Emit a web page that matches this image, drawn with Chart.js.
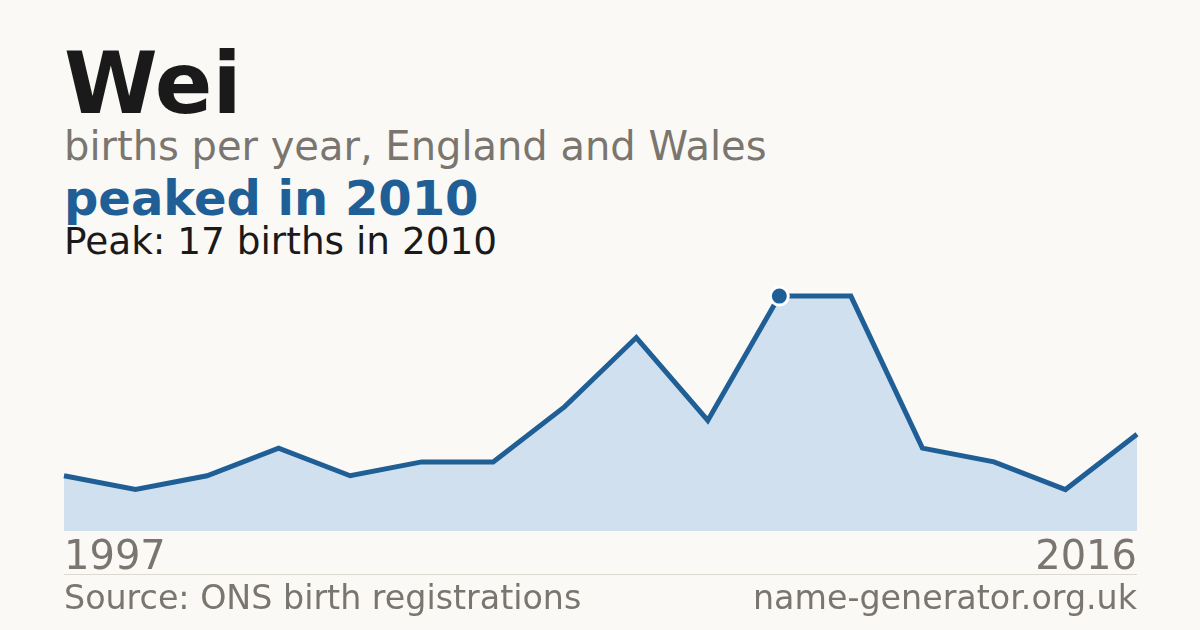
<!DOCTYPE html>
<html><head><meta charset="utf-8">
<script src="https://cdn.jsdelivr.net/npm/chart.js@4.4.1/dist/chart.umd.min.js"></script>
<style>
html,body{margin:0;padding:0;background:#faf9f5;}
body{width:1200px;height:630px;position:relative;overflow:hidden;font-family:"DejaVu Sans",sans-serif;}
.t{position:absolute;left:64px;white-space:nowrap;line-height:1;margin:0;}
#title{top:41px;font-size:85px;font-weight:bold;color:#1a1a1a;}
#sub{top:126px;font-size:40px;color:#7a766f;}
#peaked{top:174px;font-size:48px;font-weight:bold;color:#1f5f96;}
#peak{top:223px;font-size:37.4px;color:#1a1a1a;}
#rule{position:absolute;left:64px;width:1073px;top:574px;height:1px;background:#ddd9d1;}
#src{top:581px;font-size:33.3px;color:#7a766f;}
#site{top:581px;left:auto;right:63px;font-size:33.3px;color:#7a766f;}
#wrap{position:absolute;left:60px;top:270px;width:1081px;height:317px;}
</style></head>
<body>
<div class="t" id="title">Wei</div>
<div class="t" id="sub">births per year, England and Wales</div>
<div class="t" id="peaked">peaked in 2010</div>
<div class="t" id="peak">Peak: 17 births in 2010</div>
<div id="wrap"><canvas id="c" width="1081" height="317"></canvas></div>
<div id="rule"></div>
<div class="t" id="src">Source: ONS birth registrations</div>
<div class="t" id="site">name-generator.org.uk</div>
<script>
const years = [1997, 1998, 1999, 2001, 2002, 2003, 2004, 2006, 2007, 2008, 2010, 2011, 2012, 2013, 2014, 2016];
const births = [4, 3, 4, 6, 4, 5, 5, 9, 14, 8, 17, 17, 6, 5, 3, 7];
const peakYear = 2010;

const peakIdx = years.indexOf(peakYear);
const peakVal = births[peakIdx];
const lineColor = '#1f5f96';

new Chart(document.getElementById('c'), {
  type: 'line',
  data: {
    labels: years.map(String),
    datasets: [{
      data: births,
      borderColor: lineColor,
      borderWidth: 5,
      backgroundColor: '#d0e0ef',
      fill: 'origin',
      tension: 0,
      pointRadius: births.map((v, i) => i === peakIdx ? 9 : 0),
      pointBackgroundColor: lineColor,
      pointBorderColor: '#ffffff',
      pointBorderWidth: 3,
      clip: false
    }]
  },
  options: {
    responsive: false,
    animation: false,
    devicePixelRatio: 1,
    layout: { padding: 0, autoPadding: false },
    plugins: { legend: { display: false }, tooltip: { enabled: false } },
    scales: {
      x: {
        offset: false,
        border: { display: false },
        grid: { display: false, drawTicks: false },
        ticks: {
          autoSkip: false,
          maxRotation: 0,
          align: 'inner',
          padding: 4,
          color: '#7a766f',
          font: { family: 'DejaVu Sans', size: 40 },
          callback: (v, i, arr) => (i === 0 || i === arr.length - 1) ? years[i] : ''
        }
      },
      y: {
        display: false,
        min: 0,
        max: peakVal / 0.9
      }
    }
  }
});
</script>
</body></html>
